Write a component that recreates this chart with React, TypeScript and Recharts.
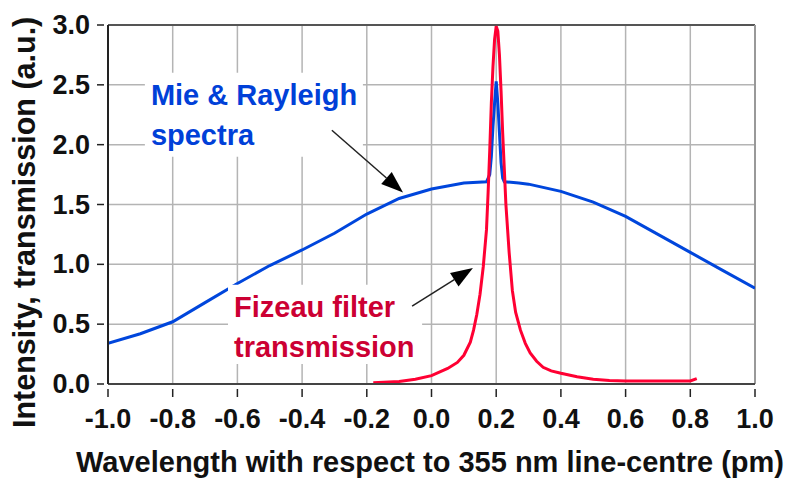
import { LineChart, Line, XAxis, YAxis, CartesianGrid, ReferenceArea, ReferenceLine } from 'recharts';

const X_TICKS = [-1.0, -0.8, -0.6, -0.4, -0.2, 0.0, 0.2, 0.4, 0.6, 0.8, 1.0];
const Y_TICKS = [0.0, 0.5, 1.0, 1.5, 2.0, 2.5, 3.0];

// Mie & Rayleigh spectra (blue)
const MIE_X = [-1.0, -0.9, -0.8, -0.7, -0.6, -0.5, -0.4, -0.3, -0.2, -0.1, 0.0, 0.1, 0.17, 0.18, 0.185, 0.19, 0.195, 0.2, 0.205, 0.21, 0.215, 0.22, 0.225, 0.27, 0.3, 0.4, 0.5, 0.6, 0.7, 0.8, 0.9, 1.0];
const MIE_Y = [0.34, 0.42, 0.52, 0.68, 0.84, 0.99, 1.12, 1.26, 1.42, 1.55, 1.63, 1.68, 1.69, 1.75, 1.9, 2.15, 2.35, 2.53, 2.35, 2.1, 1.85, 1.72, 1.69, 1.68, 1.67, 1.61, 1.52, 1.4, 1.25, 1.1, 0.95, 0.8];

// Fizeau filter transmission (red)
const FIZ_X = [-0.18, -0.1, -0.05, 0.0, 0.05, 0.08, 0.1, 0.12, 0.13, 0.14, 0.15, 0.16, 0.17, 0.175, 0.18, 0.185, 0.19, 0.195, 0.2, 0.205, 0.21, 0.215, 0.22, 0.225, 0.23, 0.24, 0.25, 0.26, 0.275, 0.29, 0.305, 0.325, 0.345, 0.37, 0.4, 0.45, 0.5, 0.55, 0.6, 0.7, 0.8, 0.82];
const FIZ_Y = [0.01, 0.02, 0.04, 0.07, 0.13, 0.18, 0.24, 0.35, 0.45, 0.58, 0.75, 0.98, 1.29, 1.6, 1.95, 2.35, 2.65, 2.88, 2.99, 2.95, 2.75, 2.45, 2.1, 1.8, 1.5, 1.1, 0.78, 0.6, 0.45, 0.34, 0.26, 0.19, 0.14, 0.11, 0.09, 0.06, 0.04, 0.03, 0.025, 0.025, 0.025, 0.045];

const mieData = MIE_X.map((x, i) => ({ x, y: MIE_Y[i] }));
const fizData = FIZ_X.map((x, i) => ({ x, y: FIZ_Y[i] }));

const FONT = '"Liberation Sans", Arial, sans-serif';
const BLUE = '#0046dc';
const RED = '#ff0033';

function YTick({ x, y, payload }: any) {
  return (
    <g>
      <line x1={x - 11} x2={x - 4} y1={y} y2={y} stroke="#222" strokeWidth={1.5} />
      <text x={x - 18} y={y + 9} textAnchor="end" fontFamily={FONT} fontWeight="bold" fontSize={27} fill="#111">
        {payload.value.toFixed(1)}
      </text>
    </g>
  );
}

function XTick({ x, y, payload }: any) {
  return (
    <g>
      <line x1={x} x2={x} y1={y + 5} y2={y + 13} stroke="#222" strokeWidth={1.5} />
      <text x={x} y={y + 44} textAnchor="middle" fontFamily={FONT} fontWeight="bold" fontSize={27} fill="#111">
        {payload.value.toFixed(1)}
      </text>
    </g>
  );
}

function Arrow(props: any) {
  const { x1, y1, x2, y2 } = props;
  const dx = x2 - x1;
  const dy = y2 - y1;
  const len = Math.sqrt(dx * dx + dy * dy);
  const ux = dx / len;
  const uy = dy / len;
  const bx = x2 - ux * 22;
  const by = y2 - uy * 22;
  const pts = `${x2},${y2} ${bx - uy * 8},${by + ux * 8} ${bx + uy * 8},${by - ux * 8}`;
  return (
    <g>
      <line x1={x1} y1={y1} x2={bx} y2={by} stroke="#222" strokeWidth={1.5} />
      <polygon points={pts} fill="#000" />
    </g>
  );
}

function boxLabel(lines: string[], color: string) {
  return (props: any) => {
    const vb = props.viewBox;
    return (
      <g>
        {lines.map((t, i) => (
          <text key={i} x={vb.x + 6} y={vb.y + 32 + i * 40} fontFamily={FONT} fontWeight="bold" fontSize={29} fill={color}>
            {t}
          </text>
        ))}
      </g>
    );
  };
}

export default function App() {
  return (
    <div style={{ position: 'absolute', left: 0, top: 0, width: 787, height: 478, background: '#fff' }}>
      <LineChart width={787} height={478} margin={{ top: 25, right: 32, left: 0, bottom: 0 }}>
        <CartesianGrid stroke="#b4b4b4" strokeWidth={1.5} />
        <XAxis
          type="number"
          dataKey="x"
          domain={[-1, 1]}
          ticks={X_TICKS}
          height={94}
          tickSize={0}
          tickMargin={0}
          tickLine={false}
          axisLine={{ stroke: '#444', strokeWidth: 2 }}
          tick={<XTick />}
          allowDataOverflow
          label={(p: any) => (
            <text x={430} y={p.viewBox.y + 88} textAnchor="middle" fontFamily={FONT} fontWeight="bold" fontSize={29} fill="#111">
              Wavelength with respect to 355 nm line-centre (pm)
            </text>
          )}
        />
        <YAxis
          type="number"
          dataKey="y"
          domain={[0, 3]}
          ticks={Y_TICKS}
          width={108}
          tickSize={0}
          tickMargin={0}
          tickLine={false}
          axisLine={{ stroke: '#222', strokeWidth: 2 }}
          tick={<YTick />}
          allowDataOverflow
          label={() => (
            <text x={35} y={428} transform="rotate(-90 35 428)" fontFamily={FONT} fontWeight="bold" fontSize={30.5} fill="#111">
              Intensity, transmission (a.u.)
            </text>
          )}
        />
        <ReferenceLine y={3} stroke="#555" strokeWidth={2} />
        <ReferenceLine x={1} stroke="#999" strokeWidth={2} />
        <Line data={mieData} dataKey="y" type="linear" stroke={BLUE} strokeWidth={3} dot={false} isAnimationActive={false} />
        <Line data={fizData} dataKey="y" type="linear" stroke={RED} strokeWidth={3} dot={false} isAnimationActive={false} />
        <ReferenceArea x1={-0.886} x2={-0.212} y1={1.9} y2={2.6} fill="#fff" fillOpacity={1} stroke="none" zIndex={450} label={boxLabel(['Mie & Rayleigh', 'spectra'], '#0040d8')} />
        <ReferenceArea x1={-0.629} x2={-0.029} y1={0.167} y2={0.83} fill="#fff" fillOpacity={1} stroke="none" zIndex={450} label={boxLabel(['Fizeau filter', 'transmission'], '#cc0033')} />
        <ReferenceLine segment={[{ x: -0.308, y: 2.12 }, { x: -0.088, y: 1.6 }]} shape={<Arrow />} zIndex={460} />
        <ReferenceLine segment={[{ x: -0.06, y: 0.65 }, { x: 0.128, y: 0.97 }]} shape={<Arrow />} zIndex={460} />
      </LineChart>
    </div>
  );
}
